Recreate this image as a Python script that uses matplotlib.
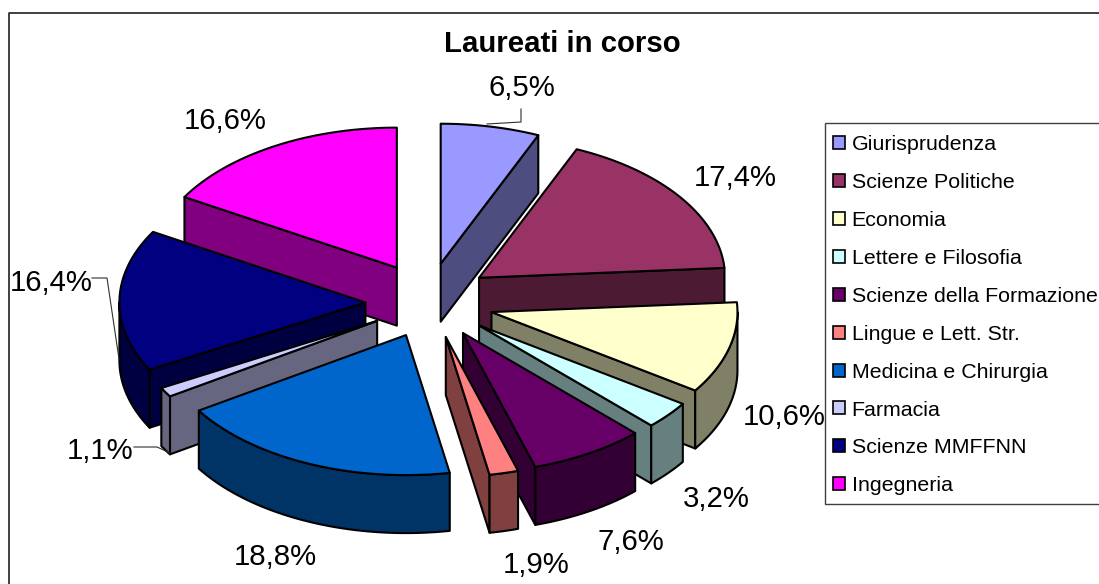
import numpy as np
import matplotlib
matplotlib.use("Agg")
import matplotlib.pyplot as plt
from matplotlib.patches import Polygon, Patch, Rectangle

plt.rcParams['font.family'] = ['Liberation Sans', 'DejaVu Sans']

categories = ['Giurisprudenza', 'Scienze Politiche', 'Economia', 'Lettere e Filosofia',
              'Scienze della Formazione', 'Lingue e Lett. Str.', 'Medicina e Chirurgia',
              'Farmacia', 'Scienze MMFFNN', 'Ingegneria']
values = [6.5, 17.4, 10.6, 3.2, 7.6, 1.9, 18.8, 1.1, 16.4, 16.6]
top_colors = ['#9999FF', '#993366', '#FFFFCC', '#CCFFFF', '#660066',
              '#FF8080', '#0066CC', '#CCCCFF', '#000080', '#FF00FF']
side_colors = ['#4D4D80', '#4D1A33', '#808066', '#668080', '#330033',
               '#804040', '#003366', '#666680', '#000040', '#800080']
label_pos = [(522, 88), (735, 178), (784, 417), (716, 499), (631, 542),
             (536, 565), (275, 557), (100, 451), (51, 283), (225, 121)]

# pie geometry in pixels
cx, cy = 428, 298
rx, ry = 246, 140
ex, ey = 62.6, 35
depth = 58
# the front slices sit a bit lower and to the right in the original
front_dx, front_dy = 3, 5

fig = plt.figure(figsize=(10.99, 5.84), dpi=100)
ax = fig.add_axes([0, 0, 1, 1])
ax.set_xlim(0, 1099)
ax.set_ylim(584, 0)
ax.axis('off')

# chart frame, only top and left are in the picture
ax.plot([8.5, 8.5, 1099], [584, 13, 13], color='#202020', lw=1.2, zorder=1)


def rim(a0, a1, ox, oy):
    a = np.radians(np.linspace(a0, a1, 80))
    return ox + rx * np.sin(a), oy - ry * np.cos(a)


edges = np.cumsum([0] + values) / sum(values) * 360
wedges = []
for i in range(len(values)):
    mid_deg = (edges[i] + edges[i + 1]) / 2
    mid = np.radians(mid_deg)
    ox = cx + ex * np.sin(mid)
    oy = cy - ey * np.cos(mid)
    if 90 < mid_deg < 280:
        oy += front_dy
    if 90 < mid_deg < 260:
        ox += front_dx
    wedges.append((-np.cos(mid), i, ox, oy))

# back slices first
z = 2
for _, i, ox, oy in sorted(wedges):
    a0, a1 = edges[i], edges[i + 1]
    kw = dict(edgecolor='black', lw=1.5, joinstyle='round')
    faces = []
    if np.sin(np.radians(a0)) < 0:
        x, y = rim(a0, a0, ox, oy)
        faces.append(([ox, x[0], x[0], ox], [oy, y[0], y[0] + depth, oy + depth]))
    if np.sin(np.radians(a1)) > 0:
        x, y = rim(a1, a1, ox, oy)
        faces.append(([ox, x[0], x[0], ox], [oy, y[0], y[0] + depth, oy + depth]))
    w0, w1 = max(a0, 90), min(a1, 270)
    if w1 > w0:
        x, y = rim(w0, w1, ox, oy)
        faces.append((np.r_[x, x[::-1]], np.r_[y, y[::-1] + depth]))
    for fx, fy in faces:
        ax.add_patch(Polygon(np.c_[fx, fy], facecolor=side_colors[i], zorder=z, **kw))
        z += 1
    x, y = rim(a0, a1, ox, oy)
    ax.add_patch(Polygon(np.c_[np.r_[ox, x], np.r_[oy, y]], facecolor=top_colors[i], zorder=z, **kw))
    z += 1

# leader lines
for lx, ly in [([521, 521, 487], [109, 122, 124]),
               ([92, 107, 119], [278, 278, 359]),
               ([134, 157, 170], [447, 447, 453])]:
    ax.plot(lx, ly, color='#303030', lw=0.8, zorder=z)

for v, (tx, ty) in zip(values, label_pos):
    ax.text(tx, ty, f'{v:.1f}%'.replace('.', ','), fontsize=21.2, ha='center', va='center',
            color='black', zorder=z + 1)

ax.text(562, 44, 'Laureati in corso', fontsize=21.2, fontweight='bold', ha='center', va='center')

# legend frame runs off the right edge
ax.add_patch(Rectangle((824.5, 122.5), 290, 381, facecolor='white', edgecolor='#404040',
                       lw=1.0, zorder=z + 2))
handles = [Patch(facecolor=c, edgecolor='black', lw=1.2) for c in top_colors]
leg = ax.legend(handles, categories, loc='upper left', bbox_to_anchor=(833 / 1099, 1 - 135 / 584),
                borderaxespad=0, borderpad=0, fontsize=15.4, frameon=False,
                labelspacing=0.885, handlelength=0.56, handleheight=0.56, handletextpad=0.31)
leg.set_zorder(z + 3)

fig.savefig('out.png', dpi=100)
